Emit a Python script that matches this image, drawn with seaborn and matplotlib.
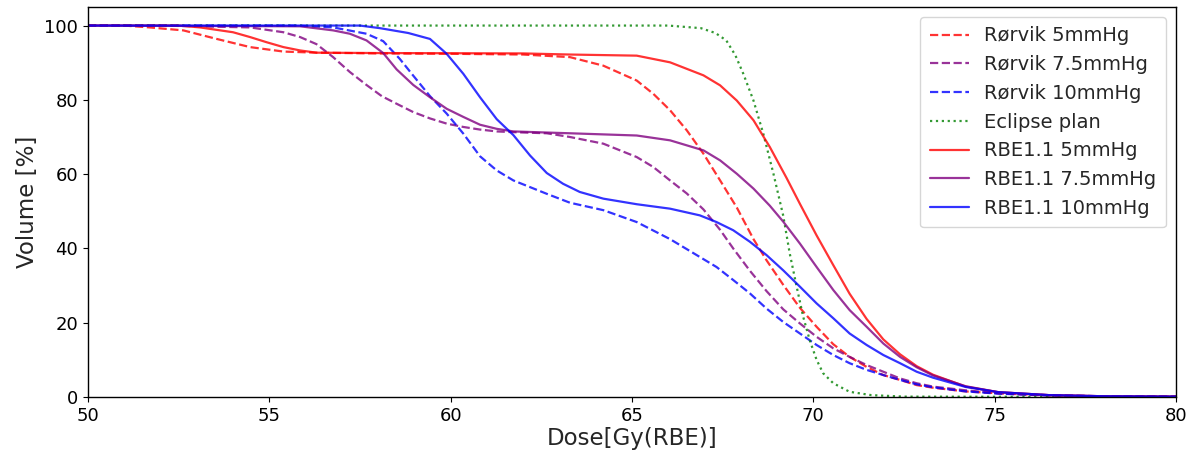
import matplotlib
matplotlib.use("Agg")
import matplotlib.pyplot as plt
import seaborn as sns

# ---- data ----
rorvik5_dose = [50, 51, 51.7, 52.63, 53.55, 54.47, 55.39, 56.3, 58, 60, 62, 63.29, 64.21, 65.13, 65.59, 66.05,
                66.51, 66.97, 67.43, 67.89, 68.35, 68.71, 69.17, 69.63, 70.09, 70.55, 71, 71.47, 71.93, 72.39,
                72.85, 73.3, 74.2, 75.1, 76, 77, 78, 80]
rorvik5_vol = [100, 100, 99.5, 98.7, 96.4, 94.2, 93, 92.7, 92.5, 92.4, 92.2, 91.5, 89.2, 85.2, 81.6, 77.2,
               71.8, 65.5, 58.3, 51, 42.5, 36.8, 30.2, 24, 18.9, 14.2, 10.8, 8.1, 5.9, 4.6,
               3.2, 2.5, 1.5, 1, 0.6, 0.3, 0.2, 0.1]

rorvik75_dose = [50, 52, 54.47, 55.39, 55.85, 56.3, 56.76, 57.22, 57.68, 58.1, 58.5, 58.97, 59.43, 59.89,
                 60.35, 60.81, 61.27, 61.73, 62.65, 63.29, 64.21, 65.13, 65.59, 66.05, 66.51, 66.97, 67.43,
                 67.79, 68.25, 68.71, 69.17, 69.63, 70.09, 70.55, 71, 71.47, 71.93, 72.39, 72.85, 73.3,
                 74.2, 75.1, 76.5, 78, 80]
rorvik75_vol = [100, 100, 99.5, 98.2, 96.9, 95, 91.5, 87.5, 84, 81, 79, 76.7, 75, 73.6,
                72.7, 72, 71.5, 71.3, 71, 70, 68.2, 64.6, 61.9, 58.3, 54.8, 50.5, 45,
                40, 34, 28.5, 23.6, 19.8, 16.2, 13.1, 10.8, 8.6, 6.8, 5, 3.7, 2.8,
                1.8, 1, 0.5, 0.2, 0.1]

rorvik10_dose = [50, 55.8, 56.76, 57.68, 58.14, 58.6, 58.97, 59.43, 59.89, 60.35, 60.81, 61.27, 61.73, 62.65,
                 63.29, 64.21, 65.13, 66.05, 66.87, 67.33, 67.79, 68.25, 68.71, 69.17, 69.63, 70.09, 70.55,
                 71, 71.47, 71.93, 72.39, 72.85, 73.3, 74.2, 75.1, 76.5, 78, 80]
rorvik10_vol = [100, 100, 99.5, 97.8, 95.8, 91, 86.5, 81, 76.3, 70.9, 64.8, 61, 58.3, 54.7,
                52.3, 50.3, 47.1, 42.5, 37.7, 35, 31.5, 27.9, 23.8, 20.2, 17.1, 14, 11.3,
                9.1, 7.3, 5.9, 4.6, 3.4, 2.6, 1.5, 0.9, 0.4, 0.2, 0.1]

eclipse_dose = [50, 66, 66.9, 67.3, 67.6, 67.85, 68.07, 68.35, 68.62, 68.9, 69.17, 69.35, 69.54, 69.72, 69.9,
                70.09, 70.27, 70.55, 71, 71.6, 72.5, 80]
eclipse_vol = [100, 100, 99.3, 98, 96, 92, 87, 79.8, 70.9, 60.1, 48.8, 38.6, 29.7, 21.6, 15.3,
               10, 6.4, 3.7, 1.4, 0.5, 0.1, 0]

rbe5_dose = [50, 52.5, 53.09, 54, 54.47, 54.93, 55.39, 55.85, 56.3, 58, 62, 63.29, 65.13, 66.05, 66.97, 67.43,
             67.89, 68.35, 68.8, 69.26, 69.63, 70.09, 70.55, 71, 71.47, 71.93, 72.39, 72.85, 73.3, 74.2, 75.1,
             76.5, 78, 80]
rbe5_vol = [100, 100, 99.5, 98.2, 96.9, 95.5, 94.2, 93.3, 92.7, 92.6, 92.5, 92.2, 91.9, 90.1, 86.6, 83.9,
            79.8, 74.5, 67.3, 59, 52, 43.5, 35.5, 27.8, 21, 15.5, 11.5, 8.3, 6, 2.8, 1.3,
            0.5, 0.2, 0.1]

rbe75_dose = [50, 55.85, 56.76, 57.22, 57.68, 58.14, 58.51, 58.97, 59.43, 59.89, 60.35, 60.81, 61.27, 61.73,
              62.65, 63.29, 65.13, 66.05, 66.97, 67.43, 67.89, 68.35, 68.8, 69.17, 69.63, 70.09, 70.55, 71,
              71.47, 71.93, 72.39, 72.85, 73.3, 74.2, 75.1, 76.5, 78, 80]
rbe75_vol = [100, 99.8, 98.7, 97.8, 96, 92.6, 88.2, 84, 80.7, 77.6, 75.4, 73.3, 72.2, 71.5,
             71.2, 71, 70.4, 69.1, 66.4, 63.7, 60.1, 56.1, 51.5, 47.2, 41.3, 35, 28.8, 23.4,
             18.9, 14.4, 10.8, 8, 5.8, 2.9, 1.3, 0.5, 0.2, 0.1]

rbe10_dose = [50, 57.5, 58.05, 58.83, 59.43, 59.89, 60.35, 60.81, 61.27, 61.73, 62.19, 62.65, 63.1, 63.56,
              64.21, 65.13, 66.05, 66.87, 67.33, 67.79, 68.25, 68.71, 69.17, 69.63, 70.09, 70.55, 71, 71.47,
              71.93, 72.39, 72.85, 73.3, 74.2, 75.1, 76.5, 78, 80]
rbe10_vol = [100, 100, 99.3, 98, 96.4, 92.4, 87, 80.7, 74.8, 70.5, 65, 60.3, 57.4, 55.2,
             53.4, 51.9, 50.7, 48.9, 47.1, 44.9, 41.8, 38.2, 34.1, 29.7, 25.2, 21.2, 17.1, 14,
             11.3, 9.1, 6.8, 5.2, 2.7, 1.3, 0.5, 0.2, 0.1]

labels = ["Rørvik 5mmHg", "Rørvik 7.5mmHg", "Rørvik 10mmHg", "Eclipse plan",
          "RBE1.1 5mmHg", "RBE1.1 7.5mmHg", "RBE1.1 10mmHg"]

x_ticks = [50, 55, 60, 65, 70, 75, 80]
y_ticks = [0, 20, 40, 60, 80, 100]

# ---- styles ----
series = [
    (rorvik5_dose, rorvik5_vol, "red", "--"),
    (rorvik75_dose, rorvik75_vol, "purple", "--"),
    (rorvik10_dose, rorvik10_vol, "blue", "--"),
    (eclipse_dose, eclipse_vol, "green", ":"),
    (rbe5_dose, rbe5_vol, "red", "-"),
    (rbe75_dose, rbe75_vol, "purple", "-"),
    (rbe10_dose, rbe10_vol, "blue", "-"),
]

sns.set_style("ticks")
plt.rcParams["font.family"] = ["DejaVu Sans"]

fig = plt.figure(figsize=(11.92, 4.57), dpi=100)
ax = fig.add_axes([0.0738, 0.1313, 0.9128, 0.8534])

for (xd, yd, col, ls), lab in zip(series, labels):
    sns.lineplot(x=xd, y=yd, ax=ax, color=col, linestyle=ls, linewidth=1.6,
                 alpha=0.8, label=lab, estimator=None)

ax.set_xlim(50, 80)
ax.set_ylim(0, 105)
ax.set_xticks(x_ticks)
ax.set_yticks(y_ticks)
ax.tick_params(labelsize=13, colors="black")
for s in ax.spines.values():
    s.set_color("black")
    s.set_linewidth(1.0)
ax.set_xlabel("Dose[Gy(RBE)]", fontsize=16.5, labelpad=2)
ax.set_ylabel("Volume [%]", fontsize=16.5)
ax.legend(loc="upper right", fontsize=14, frameon=True, borderpad=0.5, handlelength=2.0)

fig.savefig("out.png", dpi=100)
